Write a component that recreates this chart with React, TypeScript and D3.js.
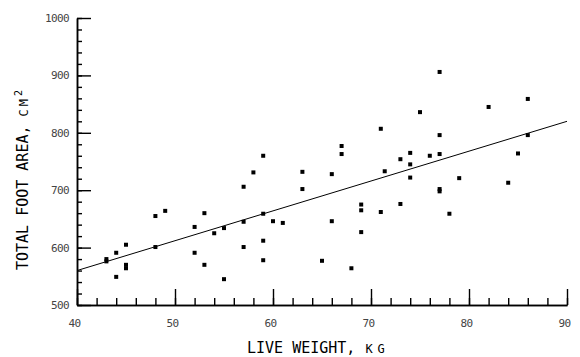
import React, { useEffect, useRef } from "react";
import * as d3 from "d3";

const weights: number[] = [
  43, 43, 44, 44, 45, 45, 45, 48, 48, 49, 52, 52, 53, 53, 54, 55, 55, 57, 57, 57,
  58, 59, 59, 59, 59, 60, 61, 63, 63, 65, 66, 66, 67, 67, 68, 69, 69, 69, 71, 71,
  71.4, 73, 73, 74, 74, 74, 75, 76, 77, 77, 77, 77, 77, 78, 79, 82, 84, 85, 86, 86,
];
const areas: number[] = [
  580, 576, 591, 549, 605, 570, 564, 655, 601, 664, 636, 591, 660, 570, 625, 634, 545, 706, 645, 601,
  731, 760, 659, 612, 578, 646, 643, 732, 702, 577, 728, 646, 777, 763, 564, 675, 665, 627, 662, 807,
  733, 754, 676, 765, 745, 722, 836, 760, 906, 796, 763, 702, 698, 659, 721, 845, 713, 764, 859, 796,
];
const fitX: number[] = [40, 90];
const fitY: number[] = [560, 820];
const xTicks: number[] = [40, 50, 60, 70, 80, 90];
const yTicks: number[] = [500, 600, 700, 800, 900, 1000];

const W = 580;
const H = 357;
const left = 77;
const right = 567;
const top = 18;
const bottom = 305;

export default function App() {
  const ref = useRef<SVGSVGElement>(null);

  useEffect(() => {
    const svg = d3.select(ref.current);
    svg.selectAll("*").remove();
    const x = d3.scaleLinear().domain([40, 90]).range([left, right]);
    const y = d3.scaleLinear().domain([500, 1000]).range([bottom, top]);
    const mono = "'DejaVu Sans Mono', monospace";

    svg.append("rect").attr("width", W).attr("height", H).attr("fill", "#fff");

    const xMinorVals = d3.range(40, 91, 2);
    const yMinorVals = d3.range(500, 1001, 20);

    const gxm = svg
      .append("g")
      .attr("transform", `translate(0,${bottom})`)
      .call(d3.axisBottom(x).tickValues(xMinorVals).tickSize(-7).tickSizeOuter(0).tickFormat(() => ""));
    const gym = svg
      .append("g")
      .attr("transform", `translate(${left},0)`)
      .call(d3.axisLeft(y).tickValues(yMinorVals).tickSize(-5).tickSizeOuter(0).tickFormat(() => ""));
    const gx = svg
      .append("g")
      .attr("transform", `translate(0,${bottom})`)
      .call(
        d3.axisBottom(x).tickValues(xTicks).tickSize(-16).tickSizeOuter(0).tickPadding(8).tickFormat(d3.format("d"))
      );
    const gy = svg
      .append("g")
      .attr("transform", `translate(${left},0)`)
      .call(
        d3.axisLeft(y).tickValues(yTicks).tickSize(-14).tickSizeOuter(0).tickPadding(8).tickFormat(d3.format("d"))
      );

    [gxm, gym, gx, gy].forEach((g) => {
      g.selectAll(".tick line").attr("stroke", "#000").attr("stroke-width", 1.4);
      g.select(".domain").attr("stroke", "#000").attr("stroke-width", 1.5);
    });
    gx.selectAll(".tick text")
      .attr("font-family", mono)
      .attr("font-size", 11)
      .attr("fill", "#444")
      .attr("letter-spacing", -0.6)
      .attr("x", -3)
      .attr("y", 18)
      .attr("dy", "0.35em");
    gy.selectAll(".tick text")
      .attr("font-family", mono)
      .attr("font-size", 11)
      .attr("fill", "#444")
      .attr("letter-spacing", -0.6)
      .attr("x", -8);

    const line = d3
      .line<number>()
      .x((_, i) => x(fitX[i]))
      .y((d) => y(d));
    svg
      .append("path")
      .attr("d", line(fitY) || "")
      .attr("fill", "none")
      .attr("stroke", "#000")
      .attr("stroke-width", 1);

    svg
      .append("g")
      .selectAll("rect")
      .data(weights)
      .join("rect")
      .attr("x", (w) => x(w) - 2)
      .attr("y", (_, i) => y(areas[i]) - 2)
      .attr("width", 4)
      .attr("height", 4)
      .attr("fill", "#000");

    const xl = svg
      .append("text")
      .attr("x", 247)
      .attr("y", 353)
      .attr("font-family", mono)
      .attr("font-size", 15)
      .attr("fill", "#000")
      .text("LIVE WEIGHT,");
    xl.append("tspan").attr("dx", 10).attr("font-size", 12).attr("letter-spacing", 5).text("KG");

    const yl = svg
      .append("text")
      .attr("transform", "translate(28,270) rotate(-90)")
      .attr("font-family", mono)
      .attr("font-size", 15)
      .attr("fill", "#000")
      .text("TOTAL FOOT AREA,");
    yl.append("tspan").attr("dx", 9).attr("font-size", 12).attr("letter-spacing", 3).text("CM");
    yl.append("tspan").attr("dy", -6).attr("font-size", 10).text("2");
  }, []);

  return (
    <svg
      ref={ref}
      width={W}
      height={H}
      style={{ position: "absolute", left: 0, top: 0, background: "#fff" }}
    />
  );
}
